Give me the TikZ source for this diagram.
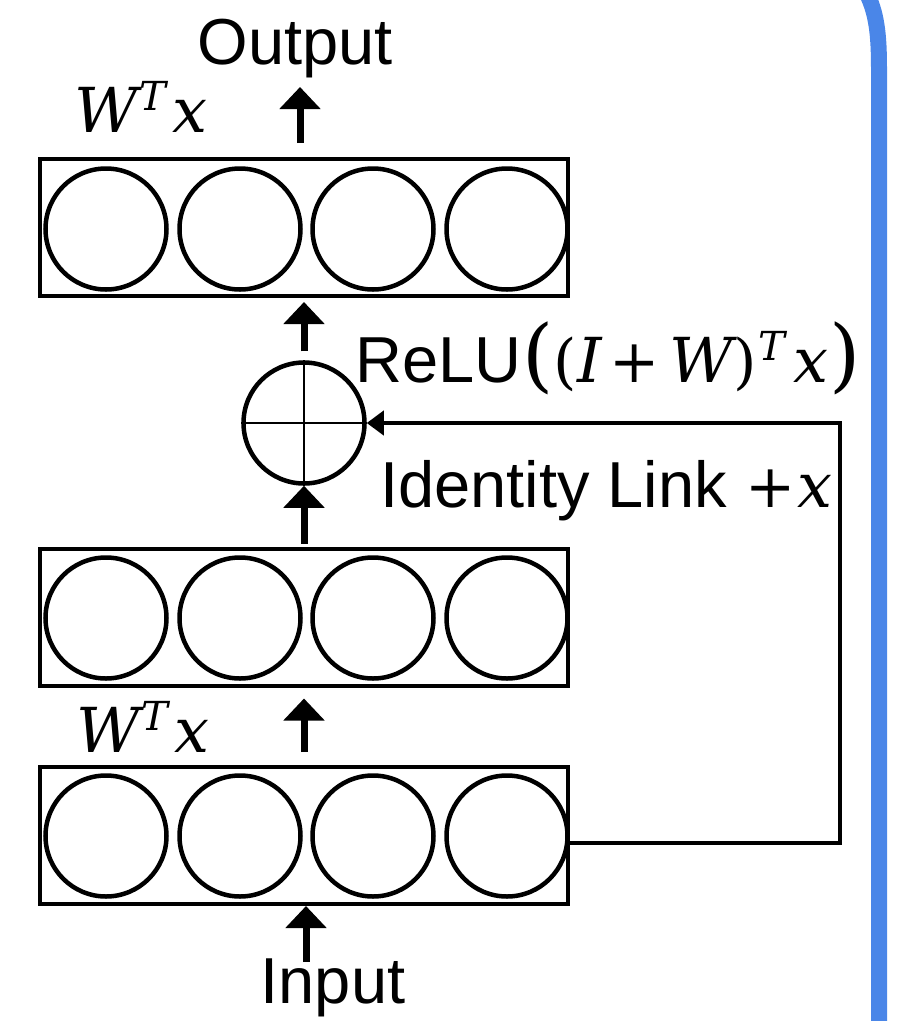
\documentclass[tikz,border=0pt]{standalone}
\usepackage{fontspec}
\usetikzlibrary{arrows.meta,calc}
\newfontfamily\labelfont{Liberation Sans}
\newfontfamily\symfont{DejaVu Serif}
% italic and upright symbols, superscripts and large delimiters
\newcommand\mi[1]{{\symfont\itshape\fontsize{62}{70}\selectfont #1}}
\newcommand\mup[1]{{\symfont\fontsize{60}{70}\selectfont #1}}
\newcommand\msup[1]{\raisebox{22pt}{\symfont\itshape\fontsize{40}{40}\selectfont #1}}
\newcommand\bigparen[1]{{\symfont\fontsize{80}{80}\selectfont #1}}
\newcommand\wtx{\mi{W}\kern2pt\msup{T}\kern6pt\mi{x}}
\definecolor{frameblue}{RGB}{74,134,232}
\tikzset{
  layerbox/.style={draw=black, line width=4pt, minimum width=528pt, minimum height=137pt, inner sep=0pt},
  unit/.style={draw=black, circle, line width=4.5pt, minimum size=121pt, inner sep=0pt},
  sumnode/.style={draw=black, circle, line width=4.5pt, minimum size=121pt, inner sep=0pt},
  bigarrow/.style={line width=7pt, -{Triangle[width=40pt,length=22pt]}},
  linkline/.style={line width=4pt, -{Triangle[width=24pt,length=17pt]}},
  lbl/.style={inner sep=0pt, font=\labelfont\fontsize{65}{70}\selectfont},
}
\begin{document}
\begin{tikzpicture}[x=1pt,y=-1pt]
\useasboundingbox (0,0) rectangle (905,1021);

% side frame
\draw[frameblue, line width=16pt] (865,-10) .. controls (877,12) and (879,35) .. (879,70) -- (879,1035);

% three layers of four units each
\node[layerbox] (outbox) at (304,227.5) {};
\node[layerbox] (hidbox) at (304,617) {};
\node[layerbox] (inbox)  at (304,835.5) {};
\foreach \b/\y in {outbox/229, hidbox/618, inbox/836}{
  \foreach \i/\x in {1/106, 2/240, 3/373, 4/507}{
    \node[unit] (\b-\i) at (\x,\y) {};
  }
}

% summation node
\node[sumnode] (sum) at (304,423) {};
\draw[line width=2.5pt] (sum.north) -- (sum.south);
\draw[line width=2.5pt] (sum.west) -- (sum.east);

% labels
\node[lbl, anchor=base] (outlbl) at (295,64) {Output};
\node[lbl, anchor=base] (inlbl) at (333,1003) {Input};
\node[lbl, anchor=base west] (wtop) at (74,132) {\wtx};
\node[lbl, anchor=base west] (wbot) at (76,752) {\wtx};
\node[lbl, anchor=base west] (relu) at (355,382)
  {ReLU\kern1pt\bigparen{(}\mup{(}\mi{I}\kern8pt\mup{+}\kern10pt\mi{W}\mup{)}\kern2pt\msup{T}\kern8pt\mi{x}\kern1pt\bigparen{)}};
\node[lbl, anchor=base west] (idlink) at (380,507) {Identity Link \mup{+}\kern2pt\mi{x}};

% arrow ends
\coordinate (intail) at (306,962);
\coordinate (outtip) at (300,87);

% flow arrows
\draw[bigarrow] (intail) -- (intail |- inbox.south);
\draw[bigarrow] ($(inbox.north)+(0,-13)$) -- ($(hidbox.south)+(0,11)$);
\draw[bigarrow] ($(hidbox.north)+(0,-3)$) -- (sum.south);
\draw[bigarrow] ($(sum.north)+(0,-9)$) -- ($(outbox.south)+(0,4)$);
\draw[bigarrow] (outtip |- outbox.north) ++(0,-14) -- (outtip);

% identity link
\coordinate (turn) at (840,423);
\draw[linkline] ($(inbox.east)+(0,7)$) -| (turn) -- (sum.east);
\end{tikzpicture}
\end{document}
